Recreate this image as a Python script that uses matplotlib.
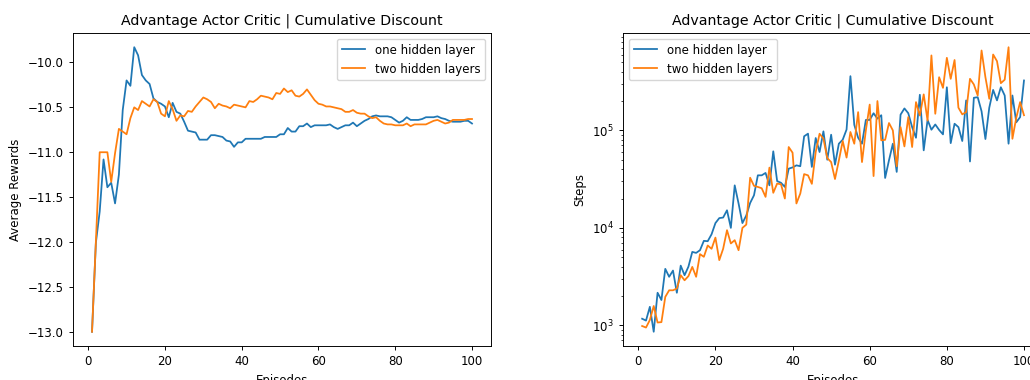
import matplotlib
matplotlib.use('Agg')
import matplotlib.pyplot as plt

episodes = list(range(1, 101))

# average reward per episode
reward_one = [-13.0, -12.01, -11.66, -11.08, -11.39, -11.34, -11.57, -11.25, -10.53, -10.2,
              -10.26, -9.83, -9.92, -10.14, -10.2, -10.24, -10.4, -10.44, -10.46, -10.49,
              -10.61, -10.45, -10.55, -10.57, -10.66, -10.76, -10.77, -10.78, -10.86, -10.86,
              -10.86, -10.81, -10.81, -10.82, -10.83, -10.87, -10.88, -10.94, -10.89, -10.89,
              -10.85, -10.85, -10.85, -10.85, -10.85, -10.83, -10.83, -10.83, -10.83, -10.8,
              -10.8, -10.73, -10.77, -10.77, -10.71, -10.71, -10.68, -10.72, -10.7, -10.7,
              -10.7, -10.7, -10.69, -10.72, -10.74, -10.72, -10.7, -10.7, -10.67, -10.71,
              -10.68, -10.65, -10.63, -10.6, -10.59, -10.6, -10.6, -10.6, -10.61, -10.64,
              -10.67, -10.65, -10.61, -10.64, -10.64, -10.64, -10.63, -10.61, -10.61, -10.61,
              -10.6, -10.62, -10.63, -10.65, -10.66, -10.66, -10.66, -10.65, -10.65, -10.68]
reward_two = [-13.0, -12.0, -11.0, -11.0, -11.0, -11.33, -11.01, -10.74, -10.77, -10.8,
              -10.62, -10.5, -10.53, -10.43, -10.46, -10.49, -10.41, -10.44, -10.57, -10.6,
              -10.43, -10.52, -10.65, -10.59, -10.6, -10.54, -10.55, -10.49, -10.44, -10.39,
              -10.41, -10.44, -10.51, -10.46, -10.48, -10.49, -10.51, -10.47, -10.48, -10.49,
              -10.5, -10.43, -10.44, -10.41, -10.37, -10.38, -10.39, -10.41, -10.34, -10.35,
              -10.29, -10.33, -10.31, -10.37, -10.38, -10.35, -10.3, -10.36, -10.42, -10.46,
              -10.47, -10.49, -10.49, -10.5, -10.51, -10.52, -10.55, -10.55, -10.53, -10.56,
              -10.57, -10.57, -10.6, -10.62, -10.61, -10.65, -10.68, -10.69, -10.69, -10.7,
              -10.7, -10.7, -10.68, -10.71, -10.69, -10.69, -10.69, -10.69, -10.67, -10.65,
              -10.64, -10.66, -10.68, -10.67, -10.64, -10.64, -10.64, -10.64, -10.63, -10.63]

# steps per episode
steps_one = [1170, 1120, 1550, 860, 2160, 1820, 3800, 3150, 3650, 2160,
             4100, 3270, 4000, 5670, 5540, 5900, 7360, 7300, 8600, 11200,
             12600, 12760, 15150, 10000, 27300, 17800, 11200, 13400, 18000, 21600,
             34600, 34600, 36600, 27300, 61000, 30200, 29000, 26300, 40500, 41700,
             43800, 42900, 87000, 92500, 42200, 83500, 60000, 97700, 50000, 90300,
             44500, 73000, 80200, 102000, 360000, 114000, 84100, 73000, 128000, 128000,
             150000, 132000, 143000, 32500, 49400, 73000, 37500, 145000, 168000, 150000,
             108000, 84000, 232000, 62400, 128000, 101600, 115000, 101000, 91000, 277000,
             74000, 117000, 108000, 77800, 203000, 48000, 216000, 219000, 157000, 81500,
             171000, 260000, 203000, 277000, 228000, 73000, 228000, 121000, 137000, 325000]
steps_two = [985, 950, 1135, 1580, 1070, 1080, 1960, 2290, 2290, 2390,
             3270, 2900, 3200, 3980, 3150, 5380, 5050, 6600, 6100, 7950,
             4670, 6100, 9470, 6920, 7480, 5900, 10000, 10800, 32700, 27000,
             26300, 25500, 20800, 41500, 22900, 28500, 28000, 20000, 67500, 59000,
             17800, 22500, 35600, 34600, 28300, 60000, 92400, 82200, 52000, 47300,
             31700, 49000, 77900, 52600, 96200, 73000, 154000, 47300, 100000, 184000,
             34000, 200000, 79000, 80000, 119000, 100000, 42800, 108000, 68500, 137000,
             67500, 195000, 142000, 234000, 126000, 587000, 148000, 351000, 273000, 555000,
             338000, 527000, 171000, 146000, 154000, 338000, 296000, 228000, 660000, 351000,
             211000, 600000, 513000, 305000, 331000, 713000, 82000, 135000, 195000, 143000]

# everything drawn a bit smaller than the defaults
s = 0.85
plt.rcParams['font.size'] = 10 * s
plt.rcParams['axes.titlesize'] = 12 * s
plt.rcParams['lines.linewidth'] = 1.5 * s
plt.rcParams['axes.linewidth'] = 0.8 * s
for ax_name in ('xtick', 'ytick'):
    plt.rcParams[ax_name + '.major.size'] = 3.5 * s
    plt.rcParams[ax_name + '.minor.size'] = 2 * s
    plt.rcParams[ax_name + '.major.width'] = 0.8 * s
    plt.rcParams[ax_name + '.minor.width'] = 0.6 * s

fig = plt.figure(figsize=(10.3, 3.8), dpi=100)
ax1 = fig.add_axes([0.0709, 0.0895, 0.4058, 0.8237])
ax2 = fig.add_axes([0.6049, 0.0895, 0.4078, 0.8237])  # runs a little past the right edge

ax1.plot(episodes, reward_one, label='one hidden layer')
ax1.plot(episodes, reward_two, label='two hidden layers')
ax1.set_title('Advantage Actor Critic | Cumulative Discount')
ax1.set_xlabel('Episodes')
ax1.set_ylabel('Average Rewards')
ax1.legend(loc='upper right')

ax2.plot(episodes, steps_one, label='one hidden layer')
ax2.plot(episodes, steps_two, label='two hidden layers')
ax2.set_yscale('log')
ax2.set_title('Advantage Actor Critic | Cumulative Discount')
ax2.set_xlabel('Episodes')
ax2.set_ylabel('Steps')
ax2.legend(loc='upper left')

fig.savefig('out.png', dpi=100)
